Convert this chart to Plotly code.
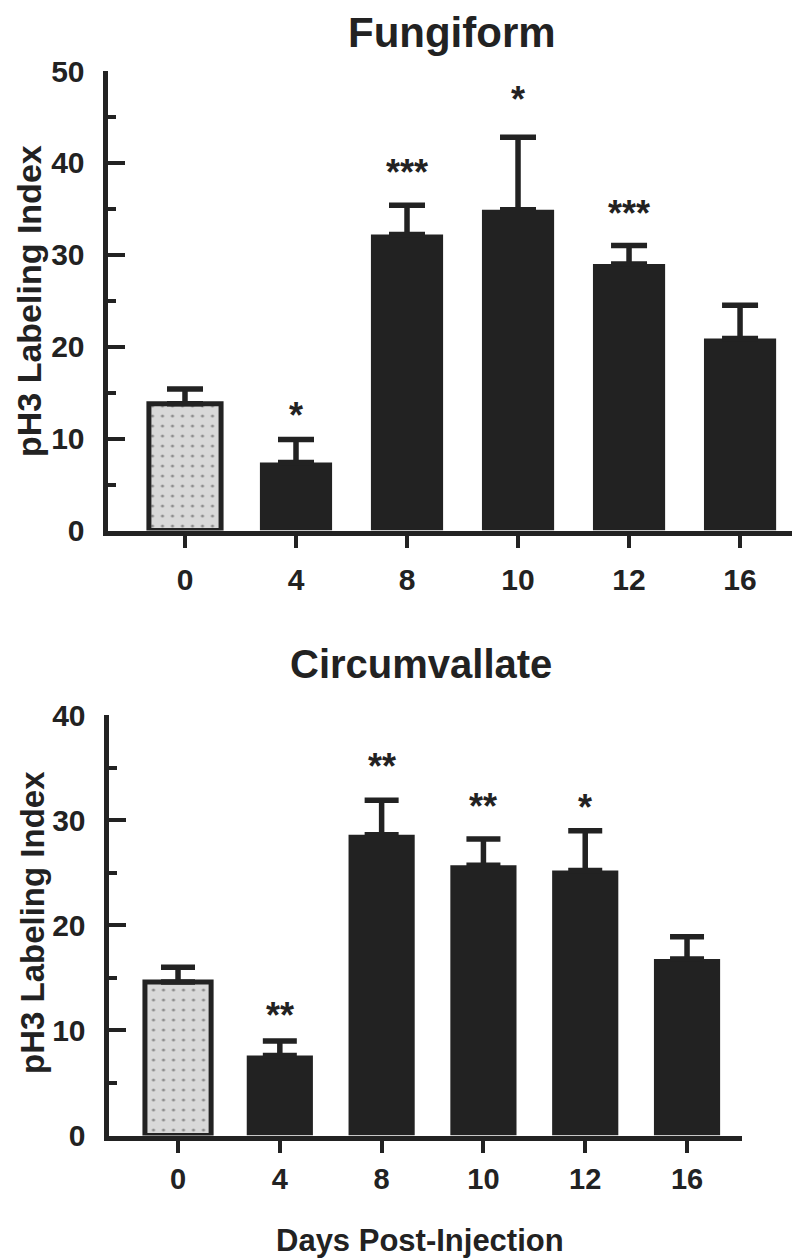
import plotly.graph_objects as go

days = ["0", "4", "8", "10", "12", "16"]

fung_mean = [13.8, 7.4, 32.2, 34.9, 29.0, 20.9]
fung_err = [1.6, 2.5, 3.2, 7.9, 2.0, 3.6]
fung_stars = ["", "*", "***", "*", "***", ""]
fung_star_y = [None, 13.2, 39.6, 47.6, 35.1, None]

circ_mean = [14.6, 7.6, 28.6, 25.7, 25.2, 16.8]
circ_err = [1.4, 1.4, 3.3, 2.5, 3.8, 2.1]
circ_stars = ["", "**", "**", "**", "*", ""]
circ_star_y = [None, 12.0, 35.7, 31.9, 31.8, None]

# page is rendered with an 8px body margin; map page pixels -> figure fractions
OFF = 8
W, H = 792, 1250
DARK = "#222222"
FONT = "Liberation Sans, Arial, sans-serif"


def fy(p):
    return 1 - (p - OFF) / H


def fx(p):
    return (p - OFF) / W


fig = go.Figure()

pat_shapes = ["."] + [""] * 5
fills = ["#d9d9d9"] + [DARK] * 5
lw = [5] + [0] * 5

for mean, err, xa, ya, capw in [
    (fung_mean, fung_err, "x", "y", 18),
    (circ_mean, circ_err, "x2", "y2", 17),
]:
    fig.add_trace(go.Bar(
        x=days, y=mean, xaxis=xa, yaxis=ya,
        marker=dict(
            color=fills,
            line=dict(color=DARK, width=lw),
            pattern=dict(shape=pat_shapes, fgcolor=DARK, bgcolor="#d9d9d9",
                         size=10, solidity=0.08),
        ),
        error_y=dict(type="data", symmetric=False, array=err,
                     arrayminus=[0] * len(err), color=DARK,
                     thickness=5.5, width=capw),
        showlegend=False,
    ))

tickfont = dict(family=FONT, size=30, color=DARK, weight="bold")
common_x = dict(type="category", showline=True,
                linewidth=5, linecolor=DARK, ticks="outside", ticklen=12,
                tickwidth=4, tickcolor=DARK, showgrid=False, zeroline=False,
                tickfont=tickfont, automargin=False)
common_y = dict(showline=True, linewidth=5, linecolor=DARK, ticks="inside",
                ticklen=17, tickwidth=4, tickcolor=DARK, showgrid=False,
                zeroline=False, tickfont=tickfont, dtick=10,
                ticklabelstandoff=12, automargin=False,
                minor=dict(dtick=5, ticks="inside", ticklen=8, tickwidth=4,
                           tickcolor=DARK, showgrid=False))

fig.update_layout(
    width=W, height=H,
    margin=dict(l=0, r=0, t=0, b=0, pad=0, autoexpand=False),
    paper_bgcolor="white", plot_bgcolor="white",
    bargap=0.35,
    showlegend=False,
    xaxis=dict(common_x, domain=[fx(107.5), 1.0], anchor="y",
               range=[-0.698, 5.54], ticklabelstandoff=6),
    yaxis=dict(common_y, domain=[fy(530.5), fy(71)], range=[0, 50],
               anchor="x"),
    xaxis2=dict(common_x, domain=[fx(108.5), fx(742)], anchor="y2",
                range=[-0.683, 5.54], ticklabelstandoff=2,
                tickfont=dict(tickfont, size=29)),
    yaxis2=dict(common_y, domain=[fy(1135.5), fy(715)], range=[0, 40],
                anchor="x2"),
)

ann = []
for stars, sy, xr, yr in [(fung_stars, fung_star_y, "x", "y"),
                          (circ_stars, circ_star_y, "x2", "y2")]:
    for i, (s, y) in enumerate(zip(stars, sy)):
        if s:
            ann.append(dict(x=i, y=y, xref=xr, yref=yr, text=s,
                            showarrow=False, yanchor="middle", yshift=-6,
                            font=dict(family=FONT, size=36, color=DARK,
                                      weight="bold")))

titlefont = dict(family=FONT, color=DARK, weight="bold")
ann += [
    dict(x=fx(452), y=1.0, xref="paper", yref="paper", text="Fungiform",
         showarrow=False, xanchor="center", yanchor="top", borderpad=0,
         font=dict(titlefont, size=42)),
    dict(x=fx(421), y=fy(664), xref="paper", yref="paper",
         text="Circumvallate", showarrow=False, xanchor="center",
         yanchor="middle", font=dict(titlefont, size=40)),
    dict(x=fx(29), y=fy(301), xref="paper", yref="paper",
         text="pH3 Labeling Index", textangle=-90, showarrow=False,
         xanchor="center", yanchor="middle", font=dict(titlefont, size=34)),
    dict(x=fx(32), y=fy(923), xref="paper", yref="paper",
         text="pH3 Labeling Index", textangle=-90, showarrow=False,
         xanchor="center", yanchor="middle", font=dict(titlefont, size=33)),
    dict(x=fx(420), y=fy(1240), xref="paper", yref="paper",
         text="Days Post-Injection", showarrow=False, xanchor="center",
         yanchor="middle", font=dict(titlefont, size=31)),
]
fig.update_layout(annotations=ann)

fig.write_html("out.html")
